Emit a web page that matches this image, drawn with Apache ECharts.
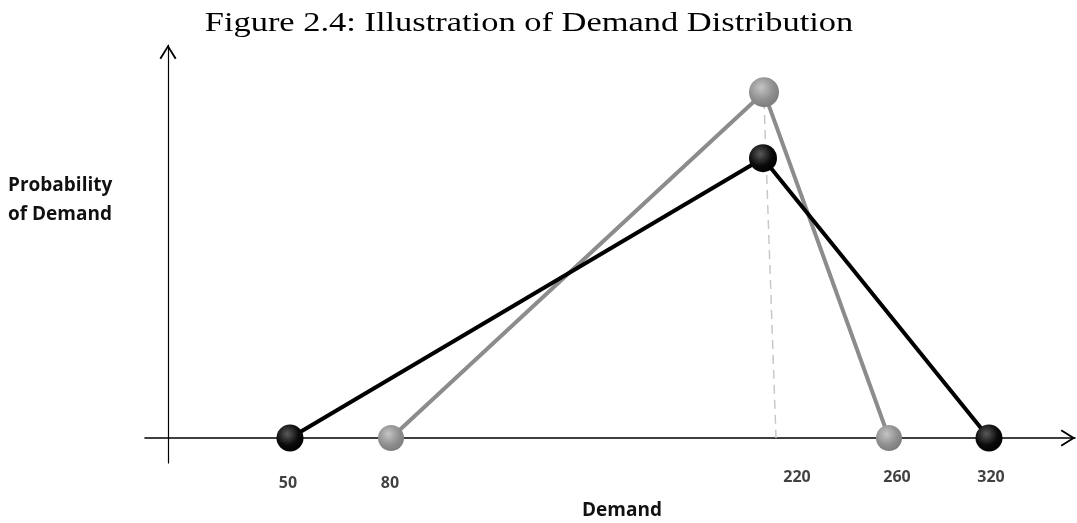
<!DOCTYPE html>
<html>
<head>
<meta charset="utf-8">
<script src="https://cdn.jsdelivr.net/npm/echarts@6/dist/echarts.min.js"></script>
<style>
  html, body { margin: 0; padding: 0; background: #fff; }
  #chart { width: 1077px; height: 523px; }
</style>
</head>
<body>
<div id="chart"></div>
<script>
// schematic positions along the demand axis (drawing not to scale)
const lowDemand = [122, 0]
const highDemand = [821, 0]
const blackPeak = [595, 0.712]
const grayLow = [223, 0]
const grayPeak = [596, 0.88]
const grayHigh = [721, 0]
const dashLine = [[596, 0.86], [608, 0]]

// tick labels: value, x position, y position
const tickValues = [50, 80, 220, 260, 320]
const tickX = [120, 222, 629, 729, 823]
const tickY = [-0.115, -0.115, -0.1, -0.1, -0.1]

let myChart = echarts.init(document.getElementById('chart'))

const blackBall = {
  type: 'radial', x: 0.4, y: 0.35, r: 0.7,
  colorStops: [{ offset: 0, color: '#5a5a5a' }, { offset: 0.6, color: '#0a0a0a' }, { offset: 1, color: '#000' }]
}
const grayBall = {
  type: 'radial', x: 0.4, y: 0.35, r: 0.7,
  colorStops: [{ offset: 0, color: '#c4c4c4' }, { offset: 0.6, color: '#8f8f8f' }, { offset: 1, color: '#7a7a7a' }]
}

// open chevron arrow head
const arrowPath = 'path://M8.5,0 L17,13.6 L15.4,14.6 L8.5,3.4 L1.6,14.6 L0,13.6 Z'

let option = {
  animation: false,
  graphic: [
    {
      type: 'text',
      x: 529,
      y: 10,
      scaleX: 1.23,
      style: {
        text: 'Figure 2.4: Illustration of Demand Distribution',
        font: '28px "Liberation Serif"',
        textAlign: 'center',
        textVerticalAlign: 'top',
        fill: '#000'
      }
    },
    {
      type: 'text',
      left: 8,
      top: 171,
      style: {
        text: 'Probability\nof Demand',
        font: 'bold 19px "Open Sans"',
        lineHeight: 29,
        fill: '#111'
      }
    },
    {
      type: 'text',
      left: 582,
      top: 501,
      style: {
        text: 'Demand',
        font: 'bold 19px "Open Sans"',
        fill: '#111'
      }
    }
  ],
  grid: {
    left: 145,
    right: 2,
    top: 45,
    bottom: 60
  },
  xAxis: {
    type: 'value',
    min: -23,
    max: 907,
    splitLine: { show: false },
    axisTick: { show: false },
    axisLabel: { show: false },
    axisLine: {
      onZero: true,
      symbol: ['none', arrowPath],
      symbolSize: [17, 15],
      symbolOffset: [0, -7],
      lineStyle: { color: '#000', width: 1.6 }
    }
  },
  yAxis: {
    type: 'value',
    min: -0.0636,
    max: 1,
    splitLine: { show: false },
    axisTick: { show: false },
    axisLabel: { show: false },
    axisLine: {
      onZero: true,
      symbol: ['none', arrowPath],
      symbolSize: [17, 15],
      symbolOffset: [0, -7],
      lineStyle: { color: '#000', width: 1.2 }
    }
  },
  series: [
    {
      name: 'dash',
      type: 'line',
      data: dashLine,
      symbol: 'none',
      lineStyle: { color: '#c8c8c8', width: 1.5, type: [9, 6] },
      z: 1
    },
    {
      name: 'gray',
      type: 'line',
      data: [grayLow, { value: grayPeak, symbolSize: 30 }, grayHigh],
      symbol: 'circle',
      symbolSize: 26,
      showAllSymbol: true,
      lineStyle: { color: '#8c8c8c', width: 4 },
      itemStyle: { color: grayBall, borderWidth: 0 },
      z: 2
    },
    {
      name: 'black',
      type: 'line',
      data: [lowDemand, { value: blackPeak, symbolSize: 28 }, highDemand],
      symbol: 'circle',
      symbolSize: 27,
      showAllSymbol: true,
      lineStyle: { color: '#000', width: 4 },
      itemStyle: { color: blackBall, borderWidth: 0 },
      z: 3
    },
    {
      name: 'ticks',
      type: 'scatter',
      clip: false,
      symbolSize: 0,
      data: tickValues.map(function (v, i) {
        return [tickX[i], tickY[i], v]
      }),
      label: {
        show: true,
        position: 'inside',
        formatter: function (p) { return p.value[2] },
        fontFamily: 'Open Sans',
        fontWeight: 'bold',
        fontSize: 16,
        color: '#111',
        textBorderWidth: 0
      }
    }
  ]
}
myChart.setOption(option, true)
</script>
</body>
</html>
